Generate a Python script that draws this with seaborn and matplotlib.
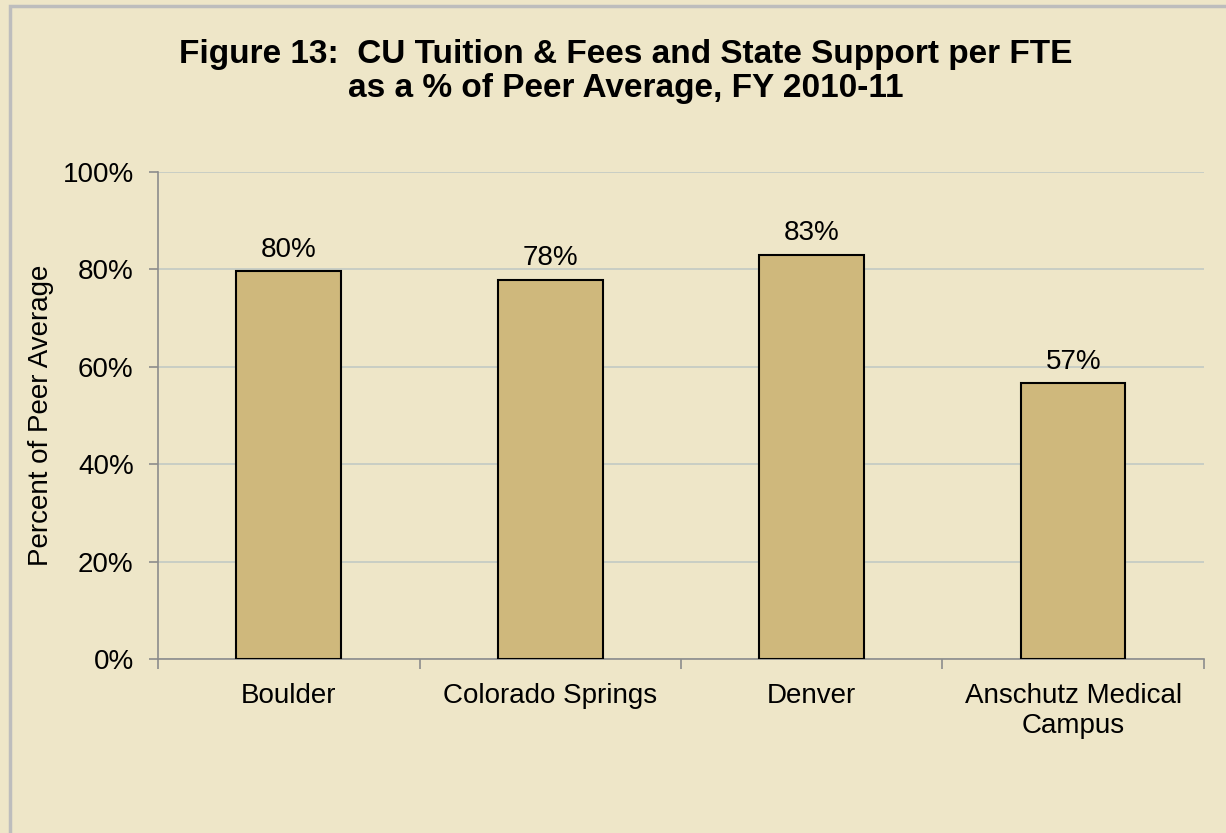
import pandas as pd
import seaborn as sns
import matplotlib.pyplot as plt
import numpy as np
from matplotlib.ticker import PercentFormatter, FixedLocator
from matplotlib.patches import Rectangle

# Data
campuses = ['Boulder', 'Colorado Springs', 'Denver', 'Anschutz Medical\nCampus']
pct_of_peer = [79.6, 77.9, 83.0, 56.6]
bar_labels = ['80%', '78%', '83%', '57%']

df = pd.DataFrame({'campus': campuses, 'pct': pct_of_peer})

bg = '#EEE6C8'
gold = '#CFB87C'
axis_grey = '#8C8C8C'

sns.set_style('white')
plt.rcParams['font.family'] = ['Liberation Sans', 'DejaVu Sans']
plt.rcParams['text.color'] = 'black'
plt.rcParams['axes.labelcolor'] = 'black'
plt.rcParams['xtick.color'] = 'black'
plt.rcParams['ytick.color'] = 'black'

fig = plt.figure(figsize=(12.26, 8.33), dpi=100)
fig.patch.set_facecolor(bg)
ax = fig.add_axes([0.1289, 0.2089, 0.982 - 0.1289, 0.7935 - 0.2089])
ax.set_facecolor(bg)

# Draw the bars
sns.barplot(data=df, x='campus', y='pct', color=gold, width=0.4,
            edgecolor='black', linewidth=1.5, saturation=1, ax=ax, zorder=3)

ax.set_xlim(-0.5, 3.5)
ax.set_ylim(0, 100)
ax.yaxis.set_major_locator(FixedLocator([0, 20, 40, 60, 80, 100]))
ax.yaxis.set_major_formatter(PercentFormatter(decimals=0))
ax.grid(axis='y', color='#C6CCC4', linewidth=1.3, zorder=0)

# Excel-style ticks between categories
ax.xaxis.set_minor_locator(FixedLocator([-0.5, 0.5, 1.5, 2.5, 3.5]))
ax.tick_params(axis='x', which='major', length=0, pad=17, labelsize=20)
ax.tick_params(axis='x', which='minor', length=7, color=axis_grey, width=1.2, direction='out')
ax.tick_params(axis='y', length=6.5, color=axis_grey, width=1.2, direction='out',
               labelsize=20, pad=11)
ax.tick_params(bottom=True, left=True, which='both')

for side in ['top', 'right']:
    ax.spines[side].set_visible(False)
for side in ['left', 'bottom']:
    ax.spines[side].set_color(axis_grey)
    ax.spines[side].set_linewidth(1.2)

ax.set_xlabel('')
ax.set_ylabel('Percent of Peer Average', fontsize=20, labelpad=6)

# Value labels above bars
for i, (v, lab) in enumerate(zip(pct_of_peer, bar_labels)):
    ax.annotate(lab, (i, v), xytext=(0, 6), textcoords='offset points',
                ha='center', va='bottom', fontsize=20)

fig.text(0.51, 0.914, 'Figure 13:  CU Tuition & Fees and State Support per FTE\nas a % of Peer Average, FY 2010-11',
         ha='center', va='center', fontsize=24, fontweight='bold', linespacing=1.15)

# Outer frame (cropped on right and bottom like the reference)
fig.patches.append(Rectangle((10 / 1226, -0.1), 1.2, 1.1 - 6 / 833, transform=fig.transFigure,
                             fill=False, edgecolor='#BDBDBD', linewidth=2.5))

fig.savefig('out.png', dpi=100, facecolor=bg)
